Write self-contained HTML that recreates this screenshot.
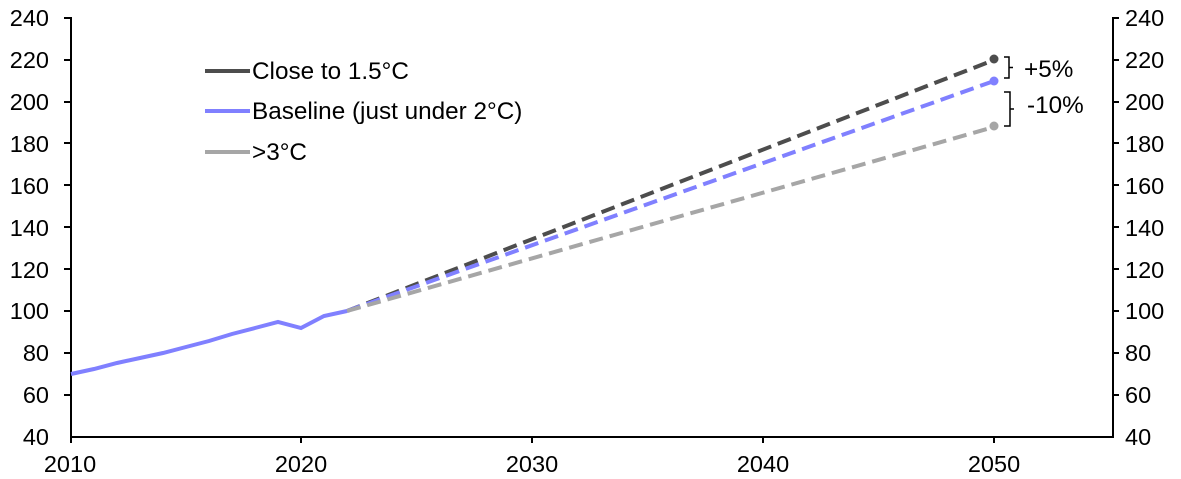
<!DOCTYPE html><html><head><style>body{margin:0;background:#fff}svg{display:block;font-family:"Liberation Sans",sans-serif}</style></head><body>
<svg width="1181" height="479" viewBox="0 0 1181 479">
<g font-size="23.5" fill="#000">
<g text-anchor="end">
<text x="49" y="26">240</text><text x="49" y="68">220</text><text x="49" y="110">200</text><text x="49" y="152">180</text><text x="49" y="194">160</text><text x="49" y="236">140</text><text x="49" y="278">120</text><text x="49" y="319">100</text><text x="49" y="361">80</text><text x="49" y="403">60</text><text x="49" y="445">40</text>
</g>
<g text-anchor="start">
<text x="1125" y="26">240</text><text x="1125" y="68">220</text><text x="1125" y="110">200</text><text x="1125" y="152">180</text><text x="1125" y="194">160</text><text x="1125" y="236">140</text><text x="1125" y="278">120</text><text x="1125" y="319">100</text><text x="1125" y="361">80</text><text x="1125" y="403">60</text><text x="1125" y="445">40</text>
</g>
<g text-anchor="middle">
<text x="70" y="472">2010</text><text x="301" y="472">2020</text><text x="532" y="472">2030</text><text x="763" y="472">2040</text><text x="994" y="472">2050</text>
</g>
</g>
<g stroke="#000" stroke-width="2" fill="none">
<path d="M71 17V437H1113V17"/>
<path d="M301 437v6M532 437v6M763 437v6M994 437v6M71 437v6"/>
<path d="M1113 18h6M1113 60h6M1113 102h6M1113 143h6M1113 185h6M1113 227h6M1113 269h6M1113 311h6M1113 353h6M1113 395h6"/>
<path d="M71 18h-7M71 60h-7M71 102h-7M71 143h-7M71 185h-7M71 227h-7M71 269h-7M71 311h-7M71 353h-7M71 395h-7"/>
</g>
<g fill="none" stroke-width="4" stroke-dasharray="14,7">
<path d="M347 311L994 60" stroke="#4d4d4d"/>
<path d="M347 311L994 81" stroke="#8080ff"/>
<path d="M347 311L994 127" stroke="#a6a6a6"/>
</g>
<circle cx="994" cy="59" r="4.5" fill="#4d4d4d"/><circle cx="994" cy="81" r="4.5" fill="#8080ff"/><circle cx="994" cy="126" r="4.5" fill="#a6a6a6"/>
<polyline fill="none" stroke="#8080ff" stroke-width="4" points="71,374 94,369 117,363 140,358 163,353 186,347 209,341 232,334 255,328 278,322 301,328 324,316 347,311"/>
<g fill="none" stroke="#000" stroke-width="1.5">
<path d="M1004 57h5v21h-5M1009 67.5h4"/>
<path d="M1004 92h6v34h-6M1010 109h4"/>
</g>
<g font-size="24.3"><text x="1024" y="77">+5%</text><text x="1027" y="113">-10%</text>
<text x="252" y="79">Close to 1.5°C</text><text x="252" y="119">Baseline (just under 2°C)</text><text x="252" y="160">&gt;3°C</text></g>
<g stroke-width="4"><path d="M205 71h45" stroke="#4d4d4d"/><path d="M205 111h45" stroke="#8080ff"/><path d="M205 152h45" stroke="#a6a6a6"/></g>
</svg></body></html>
